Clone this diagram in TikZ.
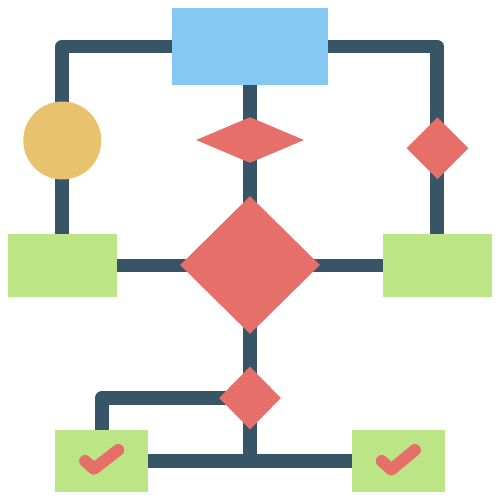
\documentclass[tikz,border=0pt]{standalone}
\usetikzlibrary{shapes.geometric}
\definecolor{cblue}{HTML}{85C9F3}
\definecolor{cyel}{HTML}{E8C26C}
\definecolor{cred}{HTML}{E76F6A}
\definecolor{cgreen}{HTML}{BCE686}
\definecolor{cdark}{HTML}{375566}
\pgfdeclarelayer{bg}
\pgfsetlayers{bg,main}
\tikzset{
  box/.style={rectangle,fill=#1,draw=none,inner sep=0pt},
  dia/.style={diamond,fill=cred,draw=none,inner sep=0pt},
  wire/.style={draw=cdark,line width=7.9pt,line join=round},
  tick/.style={draw=cred,line width=6.8pt,line cap=round,line join=round},
}
\begin{document}
\begin{tikzpicture}[x=0.02cm,y=-0.02cm]
\useasboundingbox (0,0) rectangle (500,500);
\node[box=cblue,minimum width=3.12cm,minimum height=1.56cm] (top) at (250,46.5) {};
\node[circle,fill=cyel,inner sep=0pt,minimum size=1.56cm] (circ) at (62.3,140.5) {};
\node[box=cgreen,minimum width=2.186cm,minimum height=1.248cm] (lrect) at (62.3,265.5) {};
\node[box=cgreen,minimum width=2.186cm,minimum height=1.248cm] (rrect) at (437.2,265.5) {};
\node[dia,minimum width=2.16cm,minimum height=0.92cm] (dsmall) at (250,140) {};
\node[dia,minimum width=1.24cm,minimum height=1.24cm] (drt) at (437.5,148.3) {};
\node[dia,minimum width=2.8cm,minimum height=2.76cm] (dbig) at (250,265) {};
\node[dia,minimum width=1.24cm,minimum height=1.26cm] (dbot) at (250,398) {};
\node[box=cgreen,minimum width=1.866cm,minimum height=1.234cm] (blrect) at (101.7,460.8) {};
\node[box=cgreen,minimum width=1.866cm,minimum height=1.234cm] (brrect) at (398.3,460.8) {};
\coordinate (junc) at (250,460.8);
\begin{pgfonlayer}{bg}
\draw[wire] (top.center) -| (lrect.center);
\draw[wire] (top.center) -| (rrect.center);
\draw[wire] (top.center) -- (junc);
\draw[wire] (lrect.center) -- (rrect.center);
\draw[wire] (dbot.center) -| (blrect.center);
\draw[wire] (blrect.center) -- (brrect.center);
\end{pgfonlayer}
\draw[tick] ([shift={(-16.6,0.2)}]blrect.center) -- ([shift={(-7.8,8.0)}]blrect.center) -- ([shift={(16.6,-10.8)}]blrect.center);
\draw[tick] ([shift={(-16.6,0.2)}]brrect.center) -- ([shift={(-7.0,8.8)}]brrect.center) -- ([shift={(16.6,-10.8)}]brrect.center);
\end{tikzpicture}
\end{document}
